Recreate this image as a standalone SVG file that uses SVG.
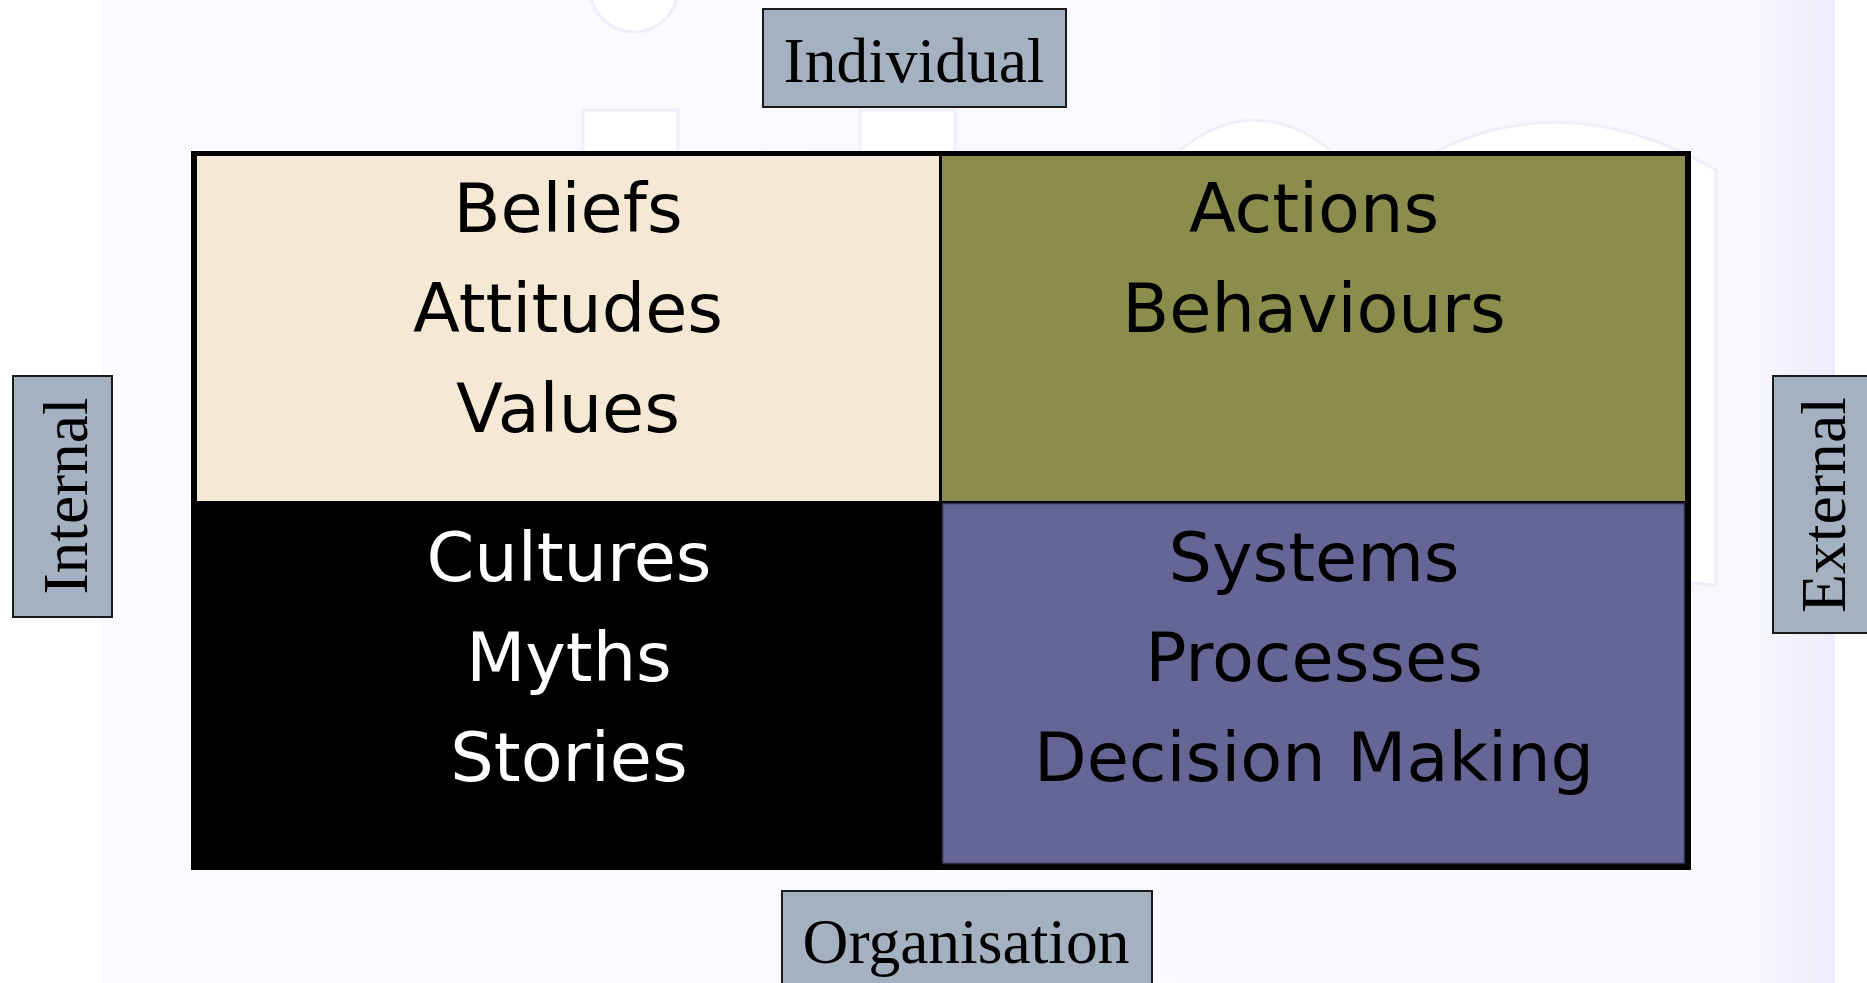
<svg xmlns="http://www.w3.org/2000/svg" width="1867" height="983" viewBox="0 0 1867 983">
<defs>
<linearGradient id="bgGrad" x1="0" y1="0" x2="1" y2="0">
<stop offset="0" stop-color="#fbfbff"/>
<stop offset="0.95" stop-color="#f8f8fe"/>
<stop offset="1" stop-color="#ececfb"/>
</linearGradient>
<style>
.lbl{fill:#a3b1c0;stroke:#1a1a1a;stroke-width:2}
.lt{font-family:"Liberation Serif","Times New Roman",serif;font-size:64px;fill:#000;text-anchor:middle}
.ct{font-family:"DejaVu Sans",Verdana,sans-serif;font-size:68.5px;text-anchor:middle}
.wm{fill:#ffffff;stroke:#efeffb;stroke-width:3}
</style>
</defs>
<rect x="0" y="0" width="1867" height="983" fill="#ffffff"/>
<rect x="102" y="0" width="1733" height="983" fill="url(#bgGrad)"/>
<g id="watermark">
<ellipse class="wm" cx="634" cy="-12" rx="44" ry="44"/>
<rect class="wm" x="583" y="110" width="95" height="80"/>
<rect class="wm" x="860" y="110" width="95" height="80"/>
<path class="wm" d="M1180 200 L1180 150 Q1255 90 1330 150 L1330 200 Z"/>
<path class="wm" d="M1420 560 L1420 160 Q1560 80 1716 170 L1716 585 Z"/>
</g>
<g id="grid">
<rect x="191" y="151" width="1500" height="719" fill="#000000"/>
</g>
<g id="cell-tl">
<rect x="197" y="156" width="742" height="345" fill="#f5e9d5"/>
<text class="ct" x="568" y="232" fill="#000">Beliefs</text>
<text class="ct" x="568" y="332" fill="#000">Attitudes</text>
<text class="ct" x="568" y="432" fill="#000">Values</text>
</g>
<g id="cell-tr">
<rect x="942" y="156" width="743" height="345" fill="#8a8d4b"/>
<text class="ct" x="1314" y="232" fill="#000">Actions</text>
<text class="ct" x="1314" y="332" fill="#000">Behaviours</text>
</g>
<g id="cell-bl">
<text class="ct" x="569" y="581" fill="#fff">Cultures</text>
<text class="ct" x="569" y="681" fill="#fff">Myths</text>
<text class="ct" x="569" y="781" fill="#fff">Stories</text>
</g>
<g id="cell-br">
<rect x="942.5" y="503.5" width="742" height="360" fill="#666696" stroke="#2a2a40" stroke-width="1.5"/>
<text class="ct" x="1314" y="581" fill="#000">Systems</text>
<text class="ct" x="1314" y="681" fill="#000">Processes</text>
<text class="ct" x="1314" y="781" fill="#000">Decision Making</text>
</g>
<g id="label-individual">
<rect class="lbl" x="763" y="9" width="303" height="98"/>
<text class="lt" x="914" y="82" textLength="261" lengthAdjust="spacingAndGlyphs">Individual</text>
</g>
<g id="label-organisation">
<rect class="lbl" x="782" y="891" width="370" height="100"/>
<text class="lt" x="966" y="963" textLength="327" lengthAdjust="spacingAndGlyphs">Organisation</text>
</g>
<g id="label-internal">
<rect class="lbl" x="13" y="376" width="99" height="241"/>
<text class="lt" transform="translate(87,496) rotate(-90)" x="0" y="0" textLength="197" lengthAdjust="spacingAndGlyphs">Internal</text>
</g>
<g id="label-external">
<rect class="lbl" x="1773" y="376" width="100" height="257"/>
<text class="lt" transform="translate(1845,505) rotate(-90)" x="0" y="0" textLength="216" lengthAdjust="spacingAndGlyphs">External</text>
</g>
<g id="connectors"/>
</svg>
